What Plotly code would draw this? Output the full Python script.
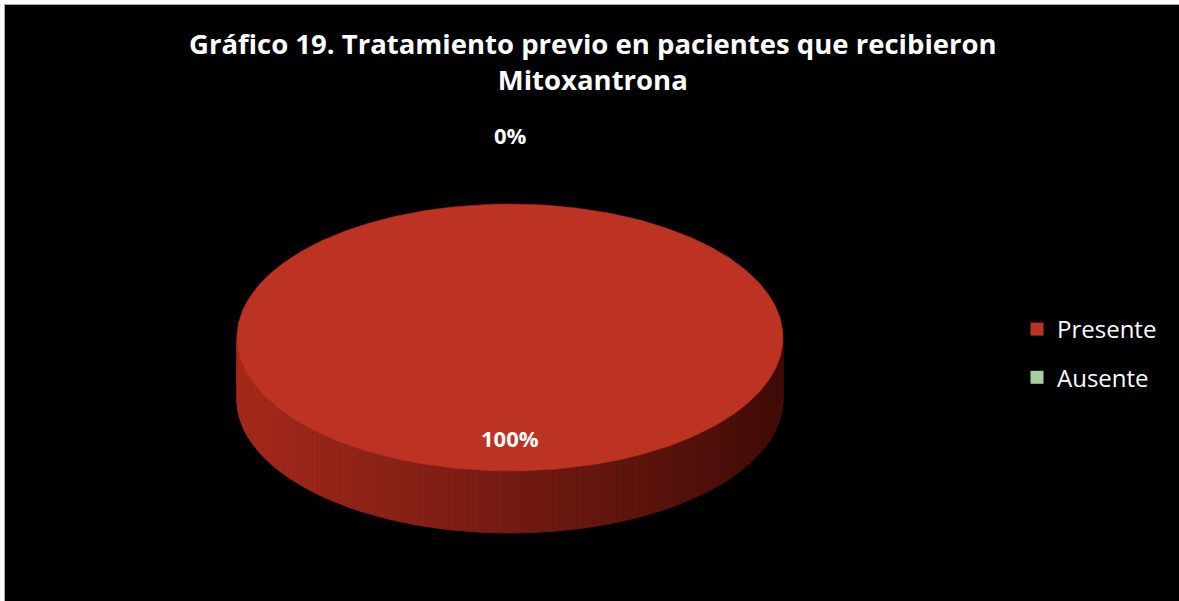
import numpy as np
import plotly.graph_objects as go

# Chart data
title_text = "Gráfico 19. Tratamiento previo en pacientes que recibieron<br>Mitoxantrona"
categories = ["Presente", "Ausente"]
values = [100, 0]
slice_colors = ["#bc3223", "#a9cf9f"]

W, H = 1179, 601

# Geometry of the tilted pie (pixel space)
cx, cy = 510, 337.5
rx, ry = 273, 133.5
depth = 62

total = float(sum(values))
pct = [v / total * 100 for v in values]

# Slice angles: start at the top, run clockwise
start = np.pi / 2
bounds = [start]
for v in values:
    bounds.append(bounds[-1] - 2 * np.pi * v / total)


def ell(t, dy=0.0):
    # math angle t -> screen coords (y grows downward)
    return cx + rx * np.cos(t), cy - ry * np.sin(t) + dy


def mix(c1, c2, f):
    return "rgb(%d,%d,%d)" % tuple(round(a + (b - a) * f) for a, b in zip(c1, c2))


fig = go.Figure()

# Side wall of the disc, shaded from left to right
wall_left = (166, 42, 28)
wall_right = (66, 12, 7)
n_strips = 140
ts = np.linspace(np.pi, 2 * np.pi, n_strips + 1)
for i in range(n_strips):
    t = np.linspace(ts[i], ts[i + 1], 4)
    xa, ya = ell(t)
    xb, yb = ell(t[::-1], depth)
    f = (np.mean(xa) - (cx - rx)) / (2 * rx)
    col = mix(wall_left, wall_right, f)
    fig.add_trace(go.Scatter(
        x=np.concatenate([xa, xb, xa[:1]]),
        y=np.concatenate([ya, yb, ya[:1]]),
        mode="lines", fill="toself", fillcolor=col,
        line=dict(color=col, width=0.8),
        hoverinfo="skip", showlegend=False,
    ))

# Top faces of the slices
for i, name in enumerate(categories):
    a0, a1 = bounds[i], bounds[i + 1]
    if a0 == a1:
        continue
    t = np.linspace(a0, a1, 400)
    xs, ys = ell(t)
    if abs(a0 - a1) < 2 * np.pi - 1e-9:
        xs = np.concatenate([[cx], xs, [cx]])
        ys = np.concatenate([[cy], ys, [cy]])
    fig.add_trace(go.Scatter(
        x=xs, y=ys, mode="lines", fill="toself",
        fillcolor=slice_colors[i], line=dict(color=slice_colors[i], width=0.5),
        hoverinfo="skip", showlegend=False,
    ))

# Legend entries
for i, name in enumerate(categories):
    fig.add_trace(go.Scatter(
        x=[None], y=[None], mode="markers", name=name, legendgroup=name,
        marker=dict(symbol="square", size=13, color=slice_colors[i]),
    ))

# Percentage labels
label_font = dict(family="Open Sans", size=22, color="white", weight="bold")
for i, name in enumerate(categories):
    mid = (bounds[i] + bounds[i + 1]) / 2
    if pct[i] >= 50:
        lx, ly = cx, cy + ry * 0.75
    else:
        lx, ly = cx + 203 * np.cos(mid), cy - 203 * np.sin(mid)
    fig.add_annotation(x=lx, y=ly, text="%d%%" % round(pct[i]),
                       showarrow=False, font=label_font,
                       xanchor="center", yanchor="middle")

fig.add_annotation(x=593, y=61, text=title_text, showarrow=False,
                   font=dict(family="Open Sans", size=27.5, color="white", weight="bold"),
                   xanchor="center", yanchor="middle", align="center")

fig.update_layout(
    width=W, height=H,
    margin=dict(l=0, r=0, t=0, b=0),
    paper_bgcolor="white", plot_bgcolor="rgba(0,0,0,0)",
    xaxis=dict(range=[0, W], visible=False, fixedrange=True),
    yaxis=dict(range=[H, 0], visible=False, fixedrange=True),
    shapes=[dict(type="rect", xref="x", yref="y", x0=4.5, y0=4.5, x1=W + 5, y1=H + 5,
                 fillcolor="black", line=dict(color="#a8a8a8", width=1), layer="below")],
    legend=dict(x=1017 / W, y=1 - 307 / H, xanchor="left", yanchor="top",
                font=dict(family="Open Sans", size=24, color="white"),
                bgcolor="rgba(0,0,0,0)", itemsizing="trace",
                traceorder="grouped", tracegroupgap=14),
    showlegend=True,
)

fig.write_html("out.html")
